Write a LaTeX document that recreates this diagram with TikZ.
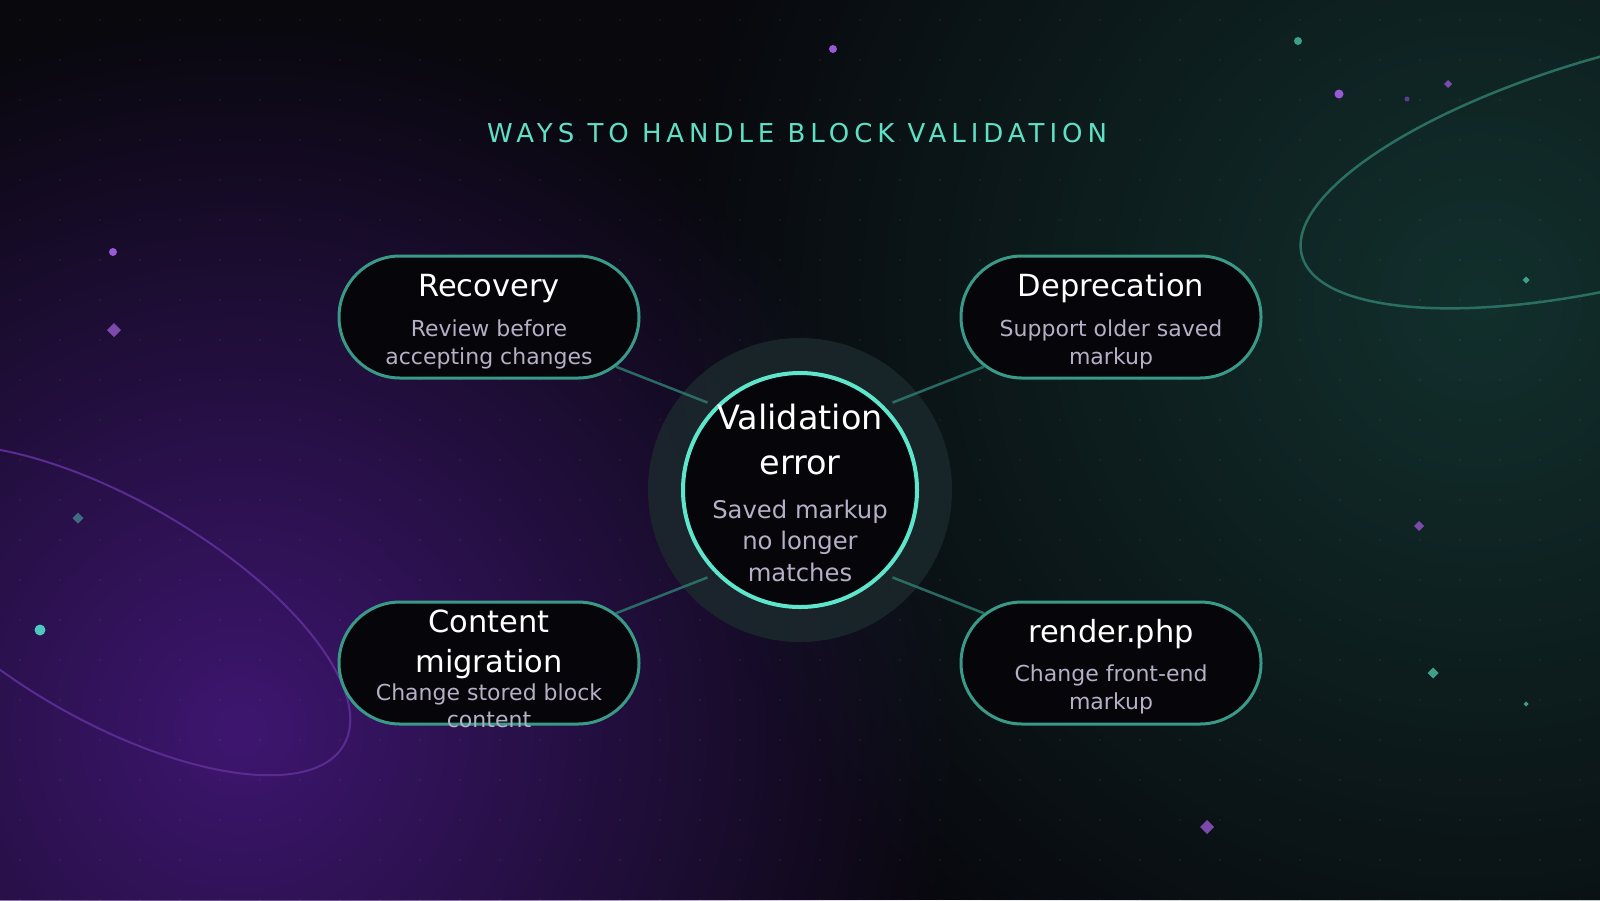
\documentclass[tikz,border=0pt]{standalone}
\usepackage{fontspec}
\setmainfont{DejaVu Sans}
\usetikzlibrary{shapes.misc,fadings}

\definecolor{bgdark}{HTML}{08080D}
\definecolor{glowpurple}{HTML}{3E1670}
\definecolor{glowteal}{HTML}{12302D}
\definecolor{pillfill}{HTML}{060509}
\definecolor{pillline}{HTML}{3A9A88}
\definecolor{ringline}{HTML}{5EE6CC}
\definecolor{linkcol}{HTML}{2E7A70}
\definecolor{halocol}{HTML}{1C2A2D}
\definecolor{subtext}{HTML}{B6AFC6}
\definecolor{headcol}{HTML}{5FE0C4}
\definecolor{sparkpurple}{HTML}{9A5AD8}
\definecolor{sparkviolet}{HTML}{7C4AAA}
\definecolor{sparkdim}{HTML}{5A3F8C}
\definecolor{sparkteal}{HTML}{3FA08A}
\definecolor{sparkaqua}{HTML}{4CC8C0}
\definecolor{sparkslate}{HTML}{3F6A80}
\definecolor{orbpurple}{HTML}{5A2C92}
\definecolor{orbteal}{HTML}{2B6E62}

\tikzfading[name=glowfade, inner color=transparent!0, outer color=transparent!100]

\begin{document}
\begin{tikzpicture}[x=1pt,y=-1pt,
		pill/.style={rounded rectangle, draw=pillline, line width=3pt, fill=pillfill, minimum width=300pt, minimum height=122pt, inner sep=0pt},
		ring/.style={circle, draw=ringline, line width=4pt, fill=pillfill, minimum size=234pt, inner sep=0pt},
		link/.style={draw=linkcol, opacity=.85, line width=2.5pt, shorten >=9pt},
		head/.style={anchor=base, align=center, text=white, font=\fontsize{30.5}{40}\selectfont},
		sub/.style={anchor=base, align=center, text=subtext, font=\fontsize{22}{28}\selectfont}]
		\useasboundingbox (0,0) rectangle (1600,900);
		\clip (0,0) rectangle (1600,900);
		\fill [bgdark] (0,0) rectangle (1600,900);
		\fill [glowpurple, path fading=glowfade] (240,730) circle (720pt);
		\fill [glowteal, path fading=glowfade] (1480,300) circle (820pt);
		\foreach \i in {0,...,39}
			\foreach \j in {0,...,22}
				\fill [white, opacity=.06] (20+40*\i,20+40*\j) circle (1.2pt);
		\draw [orbpurple, line width=2pt, rotate around={-30:(110,610)}] (110,610) ellipse [x radius=270pt, y radius=110pt];
		\draw [orbteal, line width=2.5pt, rotate around={15:(1640,165)}] (1640,165) ellipse [x radius=350pt, y radius=115pt];
		\foreach \x/\y/\r/\c in {833/49/4/sparkpurple, 1298/41/4/sparkteal, 1339/94/4.5/sparkpurple, 1407/99/2.5/sparkdim, 113/252/4/sparkpurple, 40/630/5.5/sparkaqua}
			\fill [\c] (\x,\y) circle (\r pt);
		\foreach \x/\y/\s/\c in {114/330/7/sparkviolet, 1448/84/4/sparkviolet, 1526/280/3.5/sparkteal, 78/518/5.5/sparkslate, 1419/526/5/sparkviolet, 1433/673/5.5/sparkteal, 1526/704/2.5/sparkteal, 1207/827/7/sparkviolet}
			\fill [\c] (\x,\y) ++(0,-\s) -- ++(\s,\s) -- ++(-\s,\s) -- ++(-\s,-\s) -- cycle;

		\node [anchor=base, text=headcol, font=\fontsize{26}{30}\selectfont\addfontfeature{LetterSpace=19}] (title) at (797,142) {WAYS TO HANDLE BLOCK VALIDATION};

		\coordinate (mid) at (800,490);
		\fill [halocol, opacity=.8] (mid) circle (152pt);
		\node [ring] (err) at (mid) {};
		\node [pill] (rec) at (489,317) {};
		\node [pill] (dep) at (1111,317) {};
		\node [pill] (mig) at (489,663) {};
		\node [pill] (rnd) at (1111,663) {};

		\draw [link] (rec) -- (err.135);
		\draw [link] (dep) -- (err.45);
		\draw [link] (mig) -- (err.225);
		\draw [link] (rnd) -- (err.-45);

		\node [head, font=\fontsize{33.5}{45}\selectfont] (err-h) at (800,474) {Validation\\error};
		\node [sub, font=\fontsize{24.3}{31.5}\selectfont] (err-s) at (800,581) {Saved markup\\no longer\\matches};
		\node [head] (rec-h) at (489,296) {Recovery};
		\node [sub] (rec-s) at (489,364) {Review before\\accepting changes};
		\node [head] (dep-h) at (1111,296) {Deprecation};
		\node [sub] (dep-s) at (1111,364) {Support older saved\\markup};
		\node [head] (mig-h) at (489,672) {Content\\migration};
		\node [sub, font=\fontsize{22}{27}\selectfont] (mig-s) at (489,727) {Change stored block\\content};
		\node [head] (rnd-h) at (1111,642) {render.php};
		\node [sub] (rnd-s) at (1111,709) {Change front-end\\markup};
	\end{tikzpicture}
\end{document}
